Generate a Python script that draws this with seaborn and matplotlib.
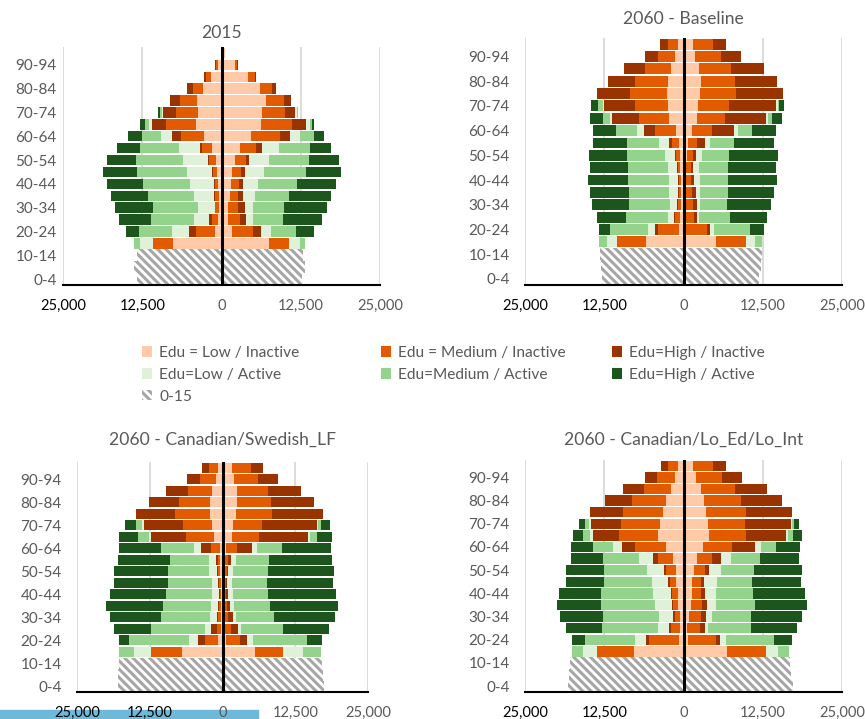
import numpy as np
import pandas as pd
import matplotlib
matplotlib.use("Agg")
import matplotlib.pyplot as plt
import seaborn as sns
from matplotlib.patches import Patch, Rectangle

# age groups, bottom to top
AGES = ["0-4", "5-9", "10-14", "15-19", "20-24", "25-29", "30-34", "35-39",
        "40-44", "45-49", "50-54", "55-59", "60-64", "65-69", "70-74",
        "75-79", "80-84", "85-89", "90-94", "95-99"]
KID_AGES = AGES[:3]
ADULT_AGES = AGES[3:]

GROUPS = ["Edu = Low / Inactive", "Edu = Medium / Inactive", "Edu=High / Inactive",
          "Edu=Low / Active", "Edu=Medium / Active", "Edu=High / Active"]
KIDS_LABEL = "0-15"

# rows: 15-19 ... 95-99, columns in GROUPS order (from centre outwards)
Y2015_LEFT = [
    [7720, 3100, 0, 2100, 890, 0],
    [950, 3150, 950, 2780, 5200, 2100],
    [580, 840, 580, 2360, 6830, 4990],
    [420, 530, 100, 2680, 7040, 6090],
    [420, 530, 160, 3260, 7190, 5930],
    [530, 530, 160, 3680, 7500, 5720],
    [680, 630, 260, 3940, 7880, 5360],
    [890, 1100, 100, 3940, 7400, 4670],
    [1420, 1680, 370, 3260, 6140, 3680],
    [2780, 3680, 1310, 1840, 2890, 2310],
    [4100, 4620, 2200, 530, 580, 840],
    [3730, 3520, 2000, 100, 370, 260],
    [3830, 2730, 1630, 0, 0, 0],
    [2940, 1580, 890, 0, 0, 0],
    [1630, 790, 370, 0, 0, 0],
    [600, 300, 50, 0, 0, 0],
    [80, 0, 0, 0, 0, 0],
]
Y2015_RIGHT = [
    [7460, 3260, 0, 1630, 790, 0],
    [1580, 3410, 1260, 1580, 3990, 2730],
    [1050, 1790, 950, 1210, 4730, 6140],
    [1050, 1580, 1050, 1310, 4940, 6720],
    [1310, 1310, 790, 1940, 5360, 6620],
    [1420, 1310, 630, 2420, 6140, 6200],
    [1580, 1520, 530, 3050, 6720, 5460],
    [2100, 1790, 420, 3150, 6400, 4620],
    [2890, 2630, 790, 2730, 4990, 3310],
    [4670, 4520, 1680, 1580, 2100, 1580],
    [6300, 4830, 2260, 530, 370, 370],
    [6400, 3570, 1680, 260, 160, 0],
    [7040, 2780, 1210, 0, 0, 0],
    [6140, 1840, 630, 0, 0, 0],
    [4150, 1100, 260, 0, 0, 0],
    [2100, 370, 100, 0, 0, 0],
    [500, 0, 0, 0, 0, 0],
]
KIDS_2015_LEFT = [13280, 13800, 13280]
KIDS_2015_RIGHT = [12700, 13125, 12810]

BASE_LEFT = [
    [5890, 4530, 0, 1620, 1250, 0],
    [680, 3390, 360, 1200, 5990, 1720],
    [570, 730, 260, 940, 6620, 4580],
    [420, 470, 100, 1090, 6560, 5730],
    [420, 360, 100, 1350, 6410, 6100],
    [420, 360, 100, 1460, 6410, 6250],
    [520, 360, 160, 1460, 6250, 5990],
    [570, 630, 160, 1560, 5940, 6040],
    [680, 1150, 420, 1560, 5110, 5310],
    [1200, 3280, 1820, 1040, 3330, 3650],
    [2340, 4740, 4120, 420, 1150, 1930],
    [2400, 5210, 4950, 210, 680, 1150],
    [2660, 5730, 5260, 0, 0, 0],
    [2500, 5210, 4270, 0, 0, 0],
    [1980, 4170, 3280, 0, 0, 0],
    [1300, 2760, 1980, 0, 0, 0],
    [830, 1670, 1150, 0, 0, 0],
]
BASE_RIGHT = [
    [5050, 4790, 0, 1460, 1150, 0],
    [470, 3180, 520, 630, 5730, 2190],
    [360, 1300, 420, 360, 4950, 5730],
    [420, 1090, 570, 520, 4270, 6880],
    [420, 890, 630, 680, 4380, 7350],
    [420, 730, 520, 890, 4430, 7710],
    [420, 730, 420, 890, 4580, 7550],
    [520, 990, 520, 940, 4270, 7610],
    [780, 1410, 1150, 830, 3750, 6410],
    [1300, 3230, 3390, 630, 2240, 3750],
    [2080, 4530, 6360, 310, 730, 1460],
    [2290, 4850, 7400, 310, 210, 780],
    [2600, 5730, 7290, 0, 0, 0],
    [2710, 5470, 6510, 0, 0, 0],
    [2450, 5110, 5160, 0, 0, 0],
    [1820, 4120, 3180, 0, 0, 0],
    [1560, 3070, 2080, 0, 0, 0],
]
KIDS_BASE_LEFT = [12820, 13080, 13180]
KIDS_BASE_RIGHT = [11980, 12240, 12350]

SWE_LEFT = [
    [6970, 5310, 0, 2970, 2460, 0],
    [690, 2280, 1260, 1600, 10280, 1710],
    [290, 630, 1030, 1140, 9190, 6340],
    [290, 400, 230, 1200, 8450, 8800],
    [290, 290, 170, 1200, 8340, 9650],
    [290, 170, 110, 1260, 7880, 9650],
    [290, 290, 110, 1140, 7540, 9310],
    [400, 290, 290, 1260, 7200, 9250],
    [400, 400, 290, 1200, 6800, 8850],
    [400, 1600, 1660, 1200, 5650, 7250],
    [1540, 4740, 5940, 460, 1830, 3250],
    [1770, 5080, 6680, 230, 1080, 1830],
    [2230, 5880, 6740, 0, 0, 0],
    [2230, 5200, 5140, 0, 0, 0],
    [1770, 4230, 3710, 0, 0, 0],
    [1080, 2860, 2110, 0, 0, 0],
    [690, 1710, 1140, 0, 0, 0],
]
SWE_RIGHT = [
    [5600, 4740, 0, 3430, 3080, 0],
    [630, 2400, 1260, 910, 9370, 2570],
    [290, 1200, 1140, 510, 7200, 7940],
    [290, 740, 690, 570, 6570, 10450],
    [290, 460, 460, 690, 6280, 11710],
    [290, 290, 290, 860, 6050, 11710],
    [290, 290, 230, 800, 6000, 11310],
    [340, 400, 290, 740, 6000, 11360],
    [460, 460, 570, 800, 5710, 10730],
    [630, 1830, 2680, 740, 4400, 8340],
    [1710, 4570, 8450, 290, 1140, 2740],
    [1880, 4970, 9420, 170, 570, 1430],
    [2340, 6110, 8850, 0, 0, 0],
    [2570, 5770, 7370, 0, 0, 0],
    [2460, 5310, 5710, 0, 0, 0],
    [2060, 4000, 3540, 0, 0, 0],
    [1710, 3140, 2170, 0, 0, 0],
]
KIDS_SWE_LEFT = [17930, 17930, 17820]
KIDS_SWE_RIGHT = [17420, 17300, 17020]

LOED_LEFT = [
    [7760, 5890, 0, 2240, 1770, 0],
    [780, 4690, 470, 1720, 7810, 2190],
    [520, 1410, 360, 1720, 8860, 5630],
    [630, 780, 260, 2190, 8910, 6720],
    [830, 890, 100, 2600, 8540, 6930],
    [890, 890, 210, 2760, 8280, 6560],
    [1150, 1040, 210, 2600, 7500, 6100],
    [1250, 1460, 310, 2660, 6930, 5990],
    [1670, 2340, 730, 2240, 5730, 5110],
    [2810, 4850, 2080, 1410, 3180, 3390],
    [4010, 6150, 4170, 470, 1040, 1620],
    [3650, 6200, 4790, 210, 730, 830],
    [3230, 6250, 5210, 0, 0, 0],
    [2710, 5470, 4270, 0, 0, 0],
    [2030, 4220, 3280, 0, 0, 0],
    [1300, 2810, 1980, 0, 0, 0],
    [890, 1560, 1150, 0, 0, 0],
]
LOED_RIGHT = [
    [6930, 6100, 0, 1880, 1670, 0],
    [680, 4430, 680, 890, 7660, 2760],
    [520, 2080, 780, 520, 6770, 7190],
    [940, 1820, 780, 940, 6200, 8080],
    [1200, 1720, 730, 1460, 6100, 8340],
    [1350, 1410, 630, 1720, 5840, 8230],
    [1350, 1410, 520, 1980, 5570, 7660],
    [1720, 1670, 570, 2030, 5110, 7660],
    [2140, 2340, 1410, 1670, 4430, 6300],
    [3020, 4590, 3600, 940, 2450, 3700],
    [3960, 5840, 6360, 260, 780, 1460],
    [3910, 5780, 7240, 260, 260, 780],
    [3540, 6360, 7190, 0, 0, 0],
    [3280, 5840, 6410, 0, 0, 0],
    [2760, 5310, 5110, 0, 0, 0],
    [1980, 4170, 3130, 0, 0, 0],
    [1560, 3130, 2080, 0, 0, 0],
]
KIDS_LOED_LEFT = [18230, 18080, 17920]
KIDS_LOED_RIGHT = [17200, 16990, 16830]

XTICKS = [-25000, -12500, 0, 12500, 25000]

COLORS = ["#FFCAA8", "#E35B00", "#993300", "#E0F1DA", "#93D38B", "#1C561C"]
PALETTE = dict(zip(GROUPS, COLORS))
HATCH_GREY = "#A6A6A6"
TEXT_GREY = "#595959"
HATCH = "\\\\\\\\"

W, H = 865, 719

sns.set_style("white")
plt.rcParams["font.family"] = ["Lato", "DejaVu Sans"]
plt.rcParams["hatch.linewidth"] = 2.2
plt.rcParams["hatch.color"] = HATCH_GREY


def stacked(rows, sign):
    cum = np.cumsum(np.array(rows, dtype=float), axis=1) * sign
    recs = [(age, g, cum[i, j]) for i, age in enumerate(ADULT_AGES)
            for j, g in enumerate(GROUPS)]
    return pd.DataFrame(recs, columns=["age", "group", "cum"])


def px_axes(fig, x0, y0, x1, y1):
    return fig.add_axes([x0 / W, 1 - y1 / H, (x1 - x0) / W, (y1 - y0) / H])


order = AGES[::-1]  # seaborn puts the first category on top

panels = [
    ("2015", Y2015_LEFT, Y2015_RIGHT, KIDS_2015_LEFT, KIDS_2015_RIGHT,
     (63, 47, 380, 285), 33, 4.5),
    ("2060 - Baseline", BASE_LEFT, BASE_RIGHT, KIDS_BASE_LEFT, KIDS_BASE_RIGHT,
     (525, 38, 842, 285), 19, 11),
    ("2060 - Canadian/Swedish_LF", SWE_LEFT, SWE_RIGHT, KIDS_SWE_LEFT, KIDS_SWE_RIGHT,
     (77, 462, 368, 692), 440, 11),
    ("2060 - Canadian/Lo_Ed/Lo_Int", LOED_LEFT, LOED_RIGHT, KIDS_LOED_LEFT, KIDS_LOED_RIGHT,
     (525, 460, 842, 692), 440, 11),
]

fig = plt.figure(figsize=(W / 100, H / 100), dpi=100)

# stray selection highlight under the bottom-left axis labels
fig.patches.append(Rectangle((0, 0), 258 / W, 9 / H, transform=fig.transFigure,
                             color="#6DB9D9", zorder=-5))

for title, left, right, kids_l, kids_r, box, title_y, ypad in panels:
    ax = px_axes(fig, *box)
    ax.set_facecolor("none")

    for rows, sign in ((left, -1), (right, 1)):
        df = stacked(rows, sign)
        sns.barplot(data=df, x="cum", y="age", hue="group",
                    hue_order=GROUPS[::-1], palette=PALETTE, order=order,
                    dodge=False, saturation=1, width=0.88, linewidth=0,
                    errorbar=None, legend=False, ax=ax)

    for kids, sign in ((kids_l, -1), (kids_r, 1)):
        sns.barplot(x=[sign * v for v in kids], y=KID_AGES, order=order,
                    color="white", saturation=1, width=1.0, linewidth=0,
                    hatch=HATCH, edgecolor=HATCH_GREY, errorbar=None, ax=ax)

    ax.set_xlim(XTICKS[0], XTICKS[-1])
    ax.set_xticks(XTICKS)
    ax.set_xticklabels([f"{abs(t):,}" for t in XTICKS])
    for lbl, c in zip(ax.get_xticklabels(), ["black", "black", TEXT_GREY, TEXT_GREY, TEXT_GREY]):
        lbl.set_color(c)

    ypos = [order.index(a) for a in AGES[::2]]
    ax.set_yticks(ypos)
    ax.set_yticklabels(AGES[::2])
    ax.tick_params(axis="y", length=0, pad=ypad, labelsize=11, labelcolor=TEXT_GREY)
    ax.tick_params(axis="x", length=0, pad=10, labelsize=10.5)
    ax.set_xlabel("")
    ax.set_ylabel("")

    ax.set_axisbelow(True)
    ax.grid(axis="x", color="#D9D9D9", linewidth=1.3)
    ax.grid(axis="y", visible=False)
    for s in ("top", "right", "left"):
        ax.spines[s].set_visible(False)
    ax.spines["bottom"].set_color("black")
    ax.spines["bottom"].set_linewidth(1.5)
    ax.axvline(0, color="black", linewidth=2.2, zorder=5)

    cx = (box[0] + box[2]) / 2 / W
    fig.text(cx, 1 - title_y / H, title, ha="center", va="center",
             fontsize=12.6, color=TEXT_GREY)

# legend, laid out row by row as three columns
handles = [Patch(facecolor=c, edgecolor="none") for c in COLORS]
kid_handle = Patch(facecolor="white", edgecolor=HATCH_GREY, linewidth=0, hatch=HATCH)
columns = [
    ([handles[0], handles[3], kid_handle], [GROUPS[0], GROUPS[3], KIDS_LABEL], 142),
    ([handles[1], handles[4]], [GROUPS[1], GROUPS[4]], 381),
    ([handles[2], handles[5]], [GROUPS[2], GROUPS[5]], 612),
]
for hs, labels, x in columns:
    fig.legend(hs, labels, loc="upper left", bbox_to_anchor=(x / W, 1 - 346 / H),
               frameon=False, fontsize=11.2, labelcolor=TEXT_GREY,
               handlelength=0.65, handleheight=0.65, handletextpad=0.45,
               labelspacing=0.5, borderpad=0, borderaxespad=0)

fig.savefig("out.png", dpi=100)
